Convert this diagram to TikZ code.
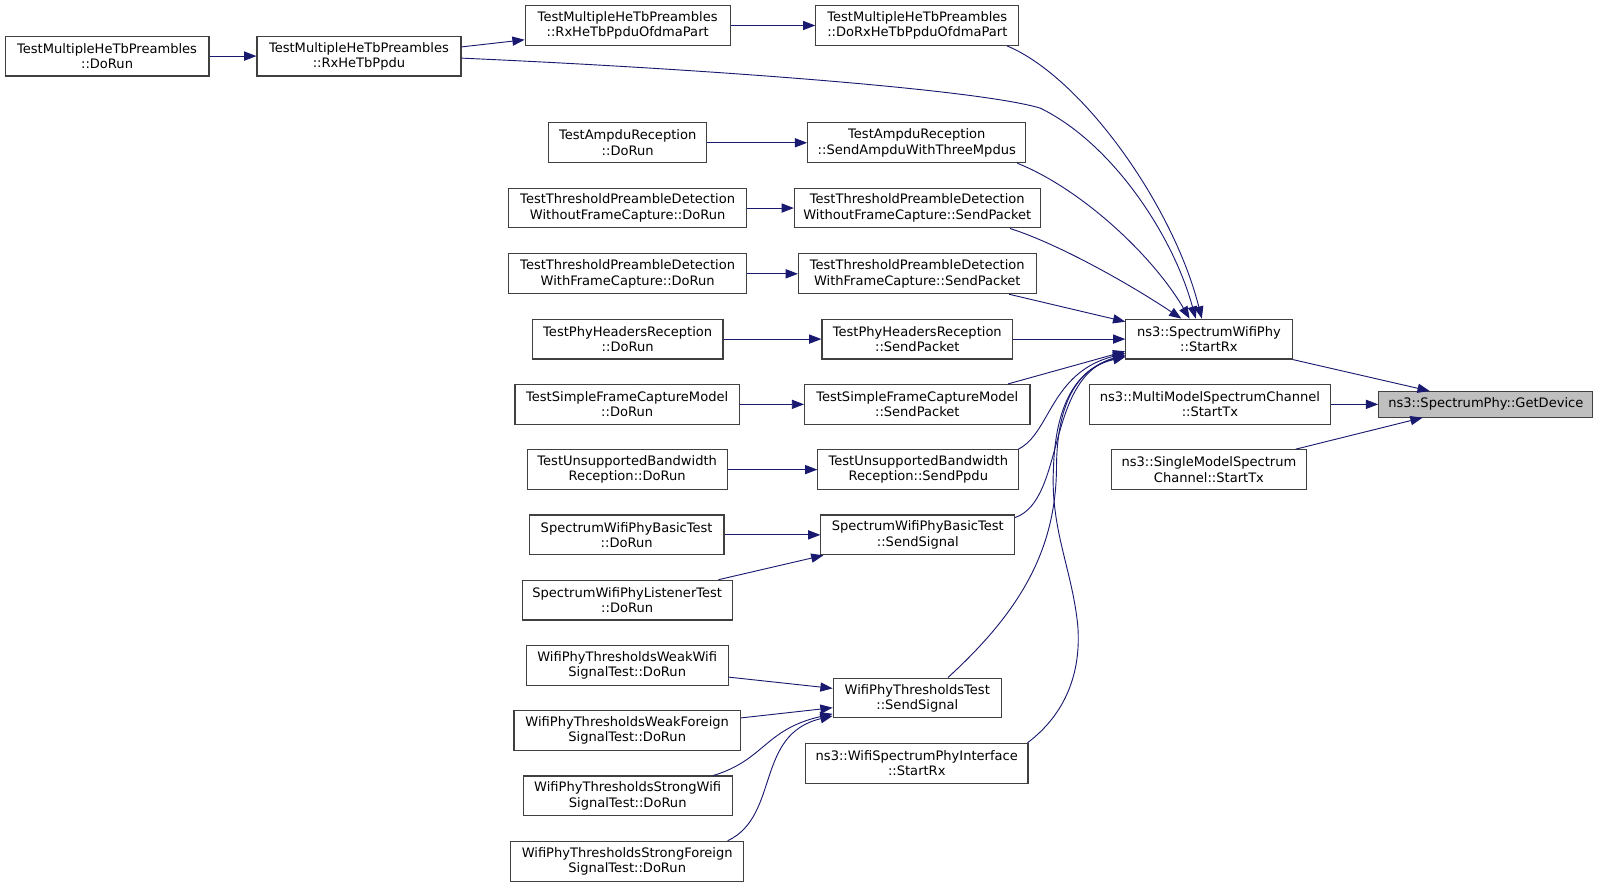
\documentclass[tikz,border=0pt]{standalone}
\usepackage{fontspec}
\setmainfont{DejaVu Sans}
\usetikzlibrary{arrows.meta}
\definecolor{edgeblue}{HTML}{191970}
\definecolor{boxline}{HTML}{404040}
\definecolor{hilite}{HTML}{BFBFBF}
\begin{document}
\begin{tikzpicture}[x=1pt,y=-1pt,
  fn/.style={draw=boxline,line width=1.1pt,fill=white,inner sep=0pt,minimum height=39pt,align=center,font=\fontsize{12.8}{15}\selectfont},
  call/.style={draw=edgeblue,line width=0.9pt,-{Triangle[length=12pt,width=9pt]}}]
\useasboundingbox (0,0) rectangle (1568,871);
\fill[white] (0,0) rectangle (1568,871);
% nodes
\node[fn,minimum width=200] (n1) at (105,55) {TestMultipleHeTbPreambles\\::DoRun};
\node[fn,minimum width=200] (n2) at (352,55) {TestMultipleHeTbPreambles\\::RxHeTbPpdu};
\node[fn,minimum width=201] (n3) at (615.5,25) {TestMultipleHeTbPreambles\\::RxHeTbPpduOfdmaPart};
\node[fn,minimum width=199] (n4) at (899.5,25) {TestMultipleHeTbPreambles\\::DoRxHeTbPpduOfdmaPart};
\node[fn,minimum width=155] (n5) at (615.5,140) {TestAmpduReception\\::DoRun};
\node[fn,minimum width=214] (n6) at (899,140) {TestAmpduReception\\::SendAmpduWithThreeMpdus};
\node[fn,minimum width=233] (n7) at (615.5,204) {TestThresholdPreambleDetection\\WithoutFrameCapture::DoRun};
\node[fn,minimum width=241] (n8) at (899.5,204) {TestThresholdPreambleDetection\\WithoutFrameCapture::SendPacket};
\node[fn,minimum width=233] (n9) at (615.5,268.5) {TestThresholdPreambleDetection\\WithFrameCapture::DoRun};
\node[fn,minimum width=233] (n10) at (899.5,268.5) {TestThresholdPreambleDetection\\WithFrameCapture::SendPacket};
\node[fn,minimum width=187] (n11) at (615.5,332.5) {TestPhyHeadersReception\\::DoRun};
\node[fn,minimum width=187] (n12) at (899.5,332.5) {TestPhyHeadersReception\\::SendPacket};
\node[fn,minimum width=220] (n13) at (615,396.5) {TestSimpleFrameCaptureModel\\::DoRun};
\node[fn,minimum width=221] (n14) at (899.5,396.5) {TestSimpleFrameCaptureModel\\::SendPacket};
\node[fn,minimum width=196] (n15) at (615,460.5) {TestUnsupportedBandwidth\\Reception::DoRun};
\node[fn,minimum width=197] (n16) at (900.5,460.5) {TestUnsupportedBandwidth\\Reception::SendPpdu};
\node[fn,minimum width=191] (n17) at (614.5,524.5) {SpectrumWifiPhyBasicTest\\::DoRun};
\node[fn,minimum width=190] (n18) at (900,524.5) {SpectrumWifiPhyBasicTest\\::SendSignal};
\node[fn,minimum width=206] (n19) at (615,588.5) {SpectrumWifiPhyListenerTest\\::DoRun};
\node[fn,minimum width=198] (n20) at (615,652.5) {WifiPhyThresholdsWeakWifi\\SignalTest::DoRun};
\node[fn,minimum width=165] (n21) at (899.5,684.5) {WifiPhyThresholdsTest\\::SendSignal};
\node[fn,minimum width=222] (n22) at (615,716.5) {WifiPhyThresholdsWeakForeign\\SignalTest::DoRun};
\node[fn,minimum width=205] (n23) at (615.5,780.5) {WifiPhyThresholdsStrongWifi\\SignalTest::DoRun};
\node[fn,minimum width=228] (n24) at (615,844.5) {WifiPhyThresholdsStrongForeign\\SignalTest::DoRun};
\node[fn,minimum width=218] (n25) at (899,748.5) {ns3::WifiSpectrumPhyInterface\\::StartRx};
\node[fn,minimum width=163] (n26) at (1185.5,332.5) {ns3::SpectrumWifiPhy\\::StartRx};
\node[fn,minimum width=237] (n27) at (1186.5,396.5) {ns3::MultiModelSpectrumChannel\\::StartTx};
\node[fn,minimum width=191] (n28) at (1185.5,460.5) {ns3::SingleModelSpectrum\\Channel::StartTx};
\node[fn,minimum width=210,minimum height=25pt,fill=hilite] (n29) at (1457,396.5) {ns3::SpectrumPhy::GetDevice};
% edges
\draw[call] (n1.east) -- (n2.west);
\draw[call] ([yshift=9]n2.east) -- ([yshift=-14]n3.west);
\draw[call] (n3.east) -- (n4.west);
\draw[call] ([yshift=-2]n2.east) .. controls (700,68) and (960,88) .. (1020,106) .. controls (1090,140) and (1150,230) .. ([xshift=-13]n26.north);
\draw[call] ([xshift=-12]n4.south east) .. controls (1060,75) and (1150,200) .. ([xshift=-7]n26.north);
\draw[call] (n5.east) -- (n6.west);
\draw[call] ([xshift=-9]n6.south east) .. controls (1060,185) and (1130,250) .. ([xshift=-19]n26.north);
\draw[call] (n7.east) -- (n8.west);
\draw[call] ([xshift=-30]n8.south east) .. controls (1040,240) and (1110,280) .. ([xshift=-27]n26.north);
\draw[call] (n9.east) -- (n10.west);
\draw[call] ([xshift=-27]n10.south east) -- ([yshift=-3]n26.north west);
\draw[call] (n11.east) -- (n12.west);
\draw[call] (n12.east) -- (n26.west);
\draw[call] (n13.east) -- (n14.west);
\draw[call] ([xshift=-22]n14.north east) -- ([yshift=-12]n26.west);
\draw[call] (n15.east) -- (n16.west);
\draw[call] ([xshift=-1]n16.north east) .. controls (1030,425) and (1030,365) .. ([yshift=-14]n26.west);
\draw[call] (n17.east) -- (n18.west);
\draw[call] ([yshift=-3]n18.north east) .. controls (1045,490) and (1025,370) .. ([yshift=-15.5]n26.west);
\draw[call] ([xshift=-14]n19.north east) -- ([xshift=3]n18.south west);
\draw[call] ([xshift=30]n21.north) .. controls (1000,600) and (1035,540) .. (1036,460) .. controls (1036,390) and (1060,360) .. ([yshift=-16.5]n26.west);
\draw[call] ([xshift=-1]n25.north east) .. controls (1045,700) and (1060,660) .. (1057,615) .. controls (1052,560) and (1030,520) .. (1033,460) .. controls (1035,390) and (1060,360) .. ([yshift=-17.5]n26.west);
\draw[call] ([yshift=-11.5]n20.east) -- ([yshift=9.5]n21.west);
\draw[call] ([yshift=12.5]n22.east) -- ([yshift=-9.5]n21.west);
\draw[call] ([xshift=-19]n23.north east) .. controls (750,745) and (750,715) .. ([yshift=-15.5]n21.west);
\draw[call] ([xshift=-16]n24.north east) .. controls (765,800) and (740,720) .. ([yshift=-17.5]n21.west);
\draw[call] (n26.south east) -- ([xshift=-55]n29.north);
\draw[call] (n27.east) -- (n29.west);
\draw[call] ([xshift=-11]n28.north east) -- ([xshift=-62]n29.south);
\end{tikzpicture}
\end{document}
